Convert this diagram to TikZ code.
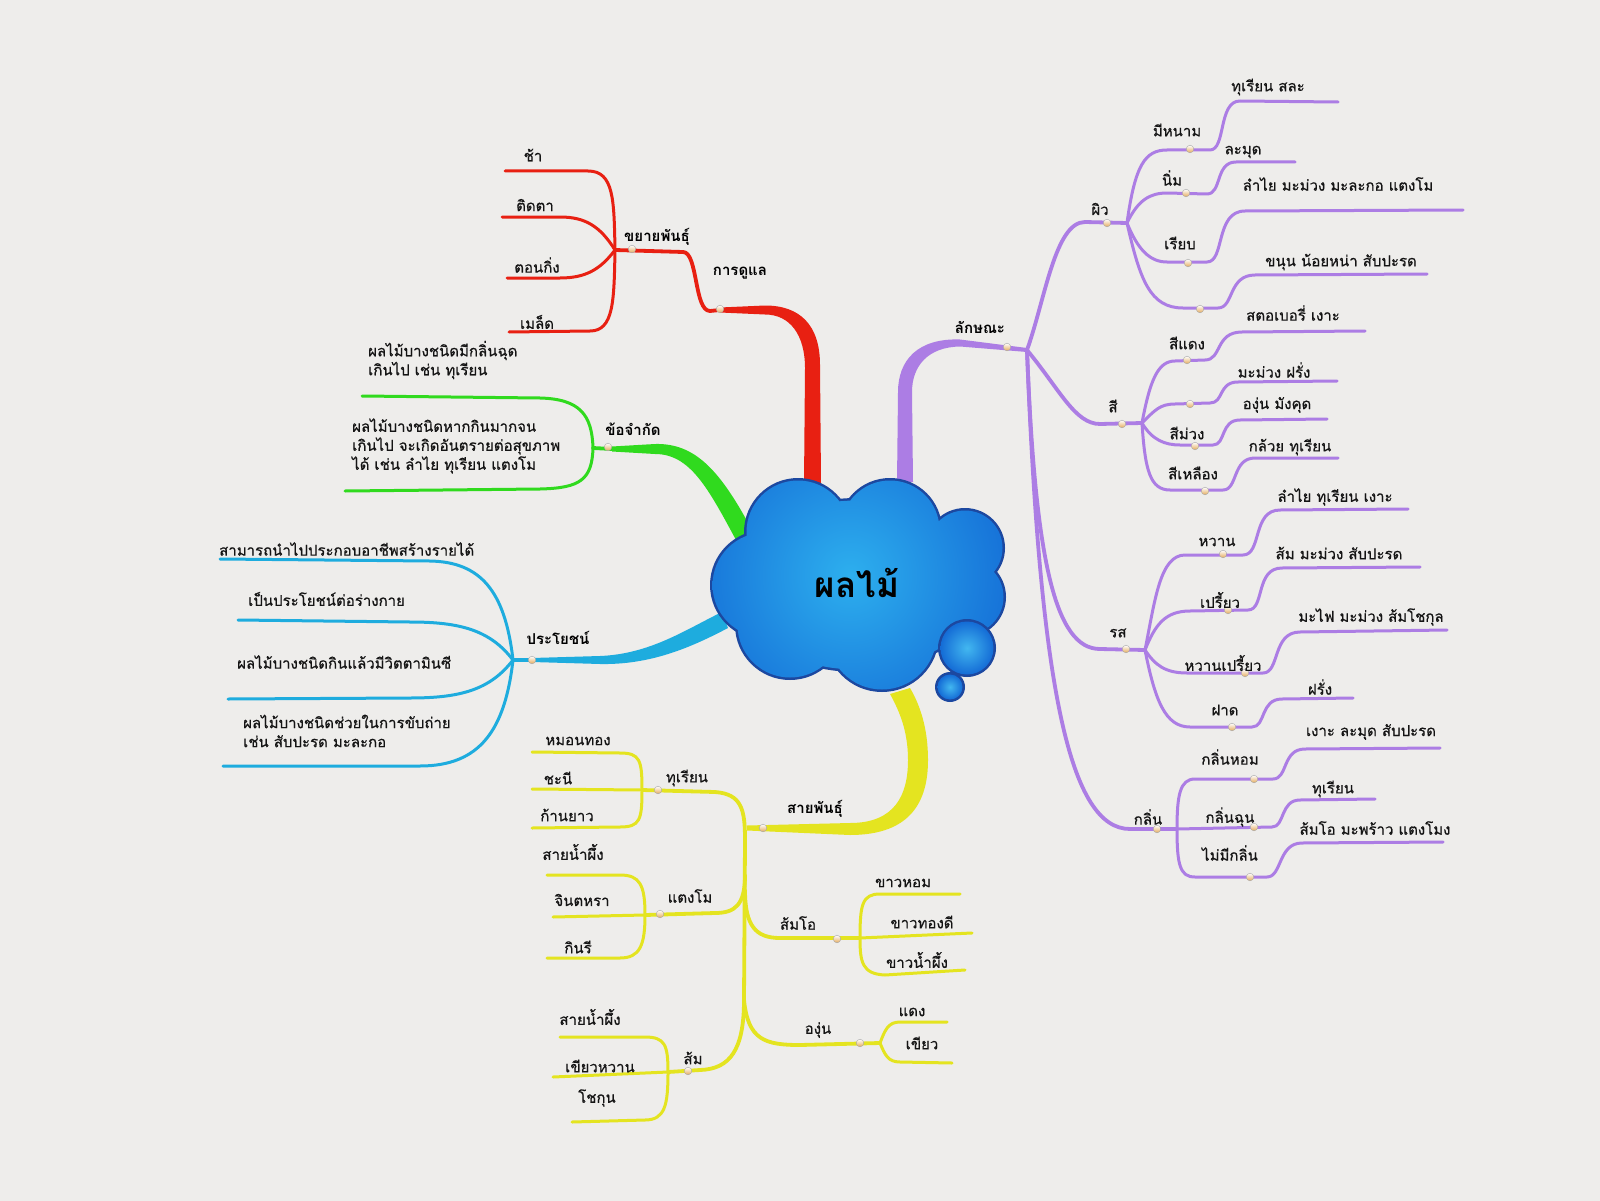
\documentclass[tikz,border=0pt]{standalone}
\usepackage{fontspec}
\newfontfamily\thai[Script=Thai]{Loma}
\newfontfamily\thaim[Script=Thai,FakeBold=0.6]{Loma}
\definecolor{bg}{RGB}{238,237,235}
\definecolor{cred}{RGB}{232,32,18}
\definecolor{cgreen}{RGB}{48,218,30}
\definecolor{cblue}{RGB}{30,172,222}
\definecolor{cyel}{RGB}{228,228,32}
\definecolor{cpur}{RGB}{172,125,228}
\definecolor{cloudin}{RGB}{45,175,238}
\definecolor{cloudout}{RGB}{20,108,214}
\definecolor{cloudedge}{RGB}{28,72,160}
\definecolor{beadc}{RGB}{228,170,90}
\begin{document}
\begin{tikzpicture}[x=1pt,y=-1pt,
  lbl/.style={font=\thaim\fontsize{15}{19}\selectfont, inner sep=0pt, text=black!92},
  hlbl/.style={font=\thai\bfseries\fontsize{15}{19}\selectfont, inner sep=0pt, text=black},
  mlbl/.style={font=\thaim\fontsize{15}{19}\selectfont, inner sep=0pt, align=left, anchor=west, text=black!92},
  leaf/.style={line width=3pt, line cap=round, line join=round},
  sub/.style={line width=3.8pt, line cap=round, line join=round},
  bead/.style={top color=white, bottom color=beadc, draw=black!35, line width=0.4pt}]
\fill[bg] (0,0) rectangle (1600,1201);
\useasboundingbox (0,0) rectangle (1600,1201);

% ---------------- coordinates (junctions) ----------------
\coordinate (rJ) at (615,250);  \coordinate (rM) at (720,310);
\coordinate (gJ) at (593,448);  \coordinate (gM) at (612,449);
\coordinate (bJ) at (513,660);  \coordinate (bM) at (532,660);
\coordinate (yA) at (642,790);  \coordinate (yB) at (645,915);
\coordinate (yC) at (860,938);  \coordinate (yE) at (668,1072);
\coordinate (yF) at (880,1043); \coordinate (yT) at (745,828);
\coordinate (pJ) at (1027,350);
\coordinate (pA) at (1127,223); \coordinate (pB) at (1142,423);
\coordinate (pC) at (1145,650); \coordinate (pD) at (1177,829);

% leaf ends
\coordinate (r1) at (505,171); \coordinate (r2) at (502,217);
\coordinate (r3) at (507,278); \coordinate (r4) at (509,332);
\coordinate (g1) at (362,396); \coordinate (g2) at (345,491);
\coordinate (b1) at (220,559); \coordinate (b2) at (238,620);
\coordinate (b3) at (228,699); \coordinate (b4) at (223,766);
\coordinate (yA1) at (532,752); \coordinate (yA2) at (532,789); \coordinate (yA3) at (532,828);
\coordinate (yB1) at (547,875); \coordinate (yB2) at (553,917); \coordinate (yB3) at (547,958);
\coordinate (yC1) at (960,894); \coordinate (yC2) at (972,933); \coordinate (yC3) at (965,970);
\coordinate (yF1) at (947,1022); \coordinate (yF2) at (952,1063);
\coordinate (yE1) at (560,1037); \coordinate (yE2) at (553,1077); \coordinate (yE3) at (572,1122);
\coordinate (pA1) at (1338,102); \coordinate (pA2) at (1295,162);
\coordinate (pA3) at (1463,210); \coordinate (pA4) at (1427,274);
\coordinate (pB1) at (1365,331); \coordinate (pB2) at (1337,381);
\coordinate (pB3) at (1327,419); \coordinate (pB4) at (1338,458);
\coordinate (pC1) at (1408,509); \coordinate (pC2) at (1420,567);
\coordinate (pC3) at (1447,630); \coordinate (pC4) at (1353,698);
\coordinate (pD1) at (1440,748); \coordinate (pD2) at (1375,799); \coordinate (pD3) at (1443,842);

% ---------------- RED ----------------
\fill[cred] (720,307.5) -- (765,305.5) .. controls (800,305.5) and (820,325) .. (820,365) -- (821,484) -- (804,484) -- (805,368) .. controls (805,335) and (790,314.5) .. (765,314.5) -- (720,312.5) -- cycle;
\draw[sub,cred] (rJ) -- (683,252) .. controls (698,252) and (694,311) .. (710,311) -- (rM);
\draw[leaf,cred] (rJ) .. controls (614,200) and (614,171) .. (588,171) -- (r1);
\draw[leaf,cred] (rJ) .. controls (600,226) and (585,217) .. (560,217) -- (r2);
\draw[leaf,cred] (rJ) .. controls (600,270) and (585,278) .. (560,278) -- (r3);
\draw[leaf,cred] (rJ) .. controls (614,300) and (614,331) .. (590,331) -- (r4);

% ---------------- GREEN ----------------
\fill[cgreen] (612,446.5) -- (655,444) .. controls (695,443) and (720,470) .. (752,530) -- (736,540) .. controls (708,488) and (690,454) .. (655,454) -- (612,451.5) -- cycle;
\draw[sub,cgreen] (gJ) -- (gM);
\draw[leaf,cgreen] (gJ) .. controls (592,415) and (580,399) .. (540,398) -- (g1);
\draw[leaf,cgreen] (gJ) .. controls (592,480) and (580,488) .. (540,489) -- (g2);

% ---------------- BLUE ----------------
\fill[cblue] (532,658) -- (600,656) .. controls (650,654) and (685,630) .. (722,612) -- (728,628) .. controls (690,648) and (650,665) .. (600,664) -- (532,662) -- cycle;
\draw[sub,cblue] (bJ) -- (bM);
\draw[leaf,cblue] (bJ) .. controls (505,590) and (480,562) .. (430,561) -- (b1);
\draw[leaf,cblue] (bJ) .. controls (490,630) and (460,622) .. (410,622) -- (b2);
\draw[leaf,cblue] (bJ) .. controls (490,690) and (460,698) .. (410,698) -- (b3);
\draw[leaf,cblue] (bJ) .. controls (505,730) and (480,766) .. (420,766) -- (b4);

% ---------------- YELLOW ----------------
\fill[cyel] (747,830.5) -- (850,835) .. controls (912,835) and (928,800) .. (928,760) .. controls (928,728) and (920,705) .. (910,688) -- (890,694) .. controls (900,712) and (908,732) .. (908,760) .. controls (908,795) and (895,823) .. (850,823) -- (747,825.5) -- cycle;
\draw[sub,cyel] (yA) -- (715,792) .. controls (742,794) and (745,810) .. (745,840) -- (744,1000)
   .. controls (744,1050) and (730,1069) .. (700,1070) -- (yE);
\draw[sub,cyel] (744,1000) .. controls (748,1040) and (765,1045) .. (800,1045) -- (yF);
\draw[sub,cyel] (745,875) .. controls (745,905) and (735,913) .. (715,913) -- (yB);
\draw[sub,cyel] (745,890) .. controls (745,925) and (755,938) .. (780,938) -- (yC);
\draw[leaf,cyel] (yA) .. controls (642,760) and (640,753) .. (620,753) -- (yA1);
\draw[leaf,cyel] (yA) -- (yA2);
\draw[leaf,cyel] (yA) .. controls (642,820) and (640,827) .. (620,827) -- (yA3);
\draw[leaf,cyel] (yB) .. controls (645,885) and (640,875) .. (620,875) -- (yB1);
\draw[leaf,cyel] (yB) -- (yB2);
\draw[leaf,cyel] (yB) .. controls (645,945) and (640,958) .. (620,958) -- (yB3);
\draw[leaf,cyel] (yC) .. controls (860,905) and (862,894) .. (880,894) -- (yC1);
\draw[leaf,cyel] (yC) -- (yC2);
\draw[leaf,cyel] (yC) .. controls (860,962) and (862,974) .. (885,975) -- (yC3);
\draw[leaf,cyel] (yF) .. controls (885,1030) and (888,1022) .. (900,1022) -- (yF1);
\draw[leaf,cyel] (yF) .. controls (885,1055) and (888,1062) .. (900,1062) -- (yF2);
\draw[leaf,cyel] (yE) .. controls (668,1045) and (665,1037) .. (645,1037) -- (yE1);
\draw[leaf,cyel] (yE) -- (yE2);
\draw[leaf,cyel] (yE) .. controls (668,1105) and (665,1120) .. (645,1120) -- (yE3);

% ---------------- PURPLE ----------------
\fill[cpur] (1027,348) -- (960,339.5) .. controls (918,338) and (898,360) .. (898,392) -- (897,482) -- (913,482) -- (912,392) .. controls (912,366) and (928,347) .. (960,346.5) -- (1027,352) -- cycle;
\draw[sub,cpur] (pJ) .. controls (1045,300) and (1055,222) .. (1085,222) -- (pA);
\draw[sub,cpur] (pJ) .. controls (1060,390) and (1075,424) .. (1100,424) -- (pB);
\draw[sub,cpur] (pJ) .. controls (1035,560) and (1055,649) .. (1100,649) -- (pC);
\draw[sub,cpur] (pJ) .. controls (1040,690) and (1070,829) .. (1130,829) -- (pD);
% skin
\draw[leaf,cpur] (pA) .. controls (1135,165) and (1145,150) .. (1167,150) -- (1210,150) .. controls (1226,150) and (1218,101) .. (1240,101) -- (pA1);
\draw[leaf,cpur] (pA) .. controls (1138,200) and (1150,193) .. (1167,193) -- (1207,194) .. controls (1222,194) and (1215,162) .. (1236,162) -- (pA2);
\draw[leaf,cpur] (pA) .. controls (1138,250) and (1150,262) .. (1167,262) -- (1207,262) .. controls (1225,262) and (1215,211) .. (1245,211) -- (pA3);
\draw[leaf,cpur] (pA) .. controls (1140,280) and (1150,308) .. (1183,308) -- (1218,308) .. controls (1234,308) and (1228,275) .. (1255,275) -- (pA4);
% colour
\draw[leaf,cpur] (pB) .. controls (1150,380) and (1158,361) .. (1175,361) -- (1205,360) .. controls (1222,360) and (1215,332) .. (1242,332) -- (pB1);
\draw[leaf,cpur] (pB) .. controls (1155,410) and (1160,404) .. (1175,404) -- (1210,403) .. controls (1224,403) and (1218,382) .. (1238,382) -- (pB2);
\draw[leaf,cpur] (pB) .. controls (1152,440) and (1165,445) .. (1180,445) -- (1213,445) .. controls (1226,445) and (1220,420) .. (1240,420) -- (pB3);
\draw[leaf,cpur] (pB) .. controls (1145,470) and (1150,490) .. (1170,490) -- (1223,490) .. controls (1238,490) and (1232,458) .. (1255,458) -- (pB4);
% taste
\draw[leaf,cpur] (pC) .. controls (1155,600) and (1160,555) .. (1185,555) -- (1243,555) .. controls (1262,555) and (1252,510) .. (1280,510) -- (pC1);
\draw[leaf,cpur] (pC) .. controls (1155,625) and (1165,611) .. (1190,611) -- (1248,610) .. controls (1265,610) and (1255,568) .. (1282,568) -- (pC2);
\draw[leaf,cpur] (pC) .. controls (1155,665) and (1165,673) .. (1187,673) -- (1263,673) .. controls (1280,673) and (1272,632) .. (1300,632) -- (pC3);
\draw[leaf,cpur] (pC) .. controls (1155,700) and (1165,727) .. (1190,727) -- (1252,727) .. controls (1266,727) and (1260,699) .. (1282,699) -- (pC4);
% smell
\draw[leaf,cpur] (pD) .. controls (1177,795) and (1180,779) .. (1195,779) -- (1273,779) .. controls (1288,779) and (1282,749) .. (1305,749) -- (pD1);
\draw[leaf,cpur] (pD) -- (1272,827) .. controls (1285,827) and (1280,800) .. (1300,800) -- (pD2);
\draw[leaf,cpur] (pD) .. controls (1177,865) and (1180,877) .. (1195,877) -- (1267,877) .. controls (1282,877) and (1278,843) .. (1302,843) -- (pD3);

% ---------------- beads ----------------
\foreach \p in {(632,249),(720,309),(608,447),(532,660),(658,790),(660,914),(837,939),(860,1043),(688,1071),(763,828),
  (1007,347),(1107,223),(1122,424),(1126,649),(1157,829),
  (1190,149),(1186,193),(1188,263),(1200,309),
  (1187,360),(1190,404),(1195,446),(1205,491),
  (1223,554),(1228,610),(1245,673),(1232,727),
  (1254,779),(1254,827),(1250,877)}
  \shade[bead] \p circle (3.8);

% ---------------- CLOUD ----------------
\fill[cloudedge]
  (857,585) ellipse [x radius=127, y radius=87]
  (798,532) circle (54) (890,530) circle (52) (965,548) circle (40)
  (765,585) circle (55) (966,597) circle (40)
  (790,625) circle (55) (882,635) circle (57);
\begin{scope}
\clip (857,585) ellipse [x radius=124.5, y radius=84.5]
  (798,532) circle (51.5) (890,530) circle (49.5) (965,548) circle (37.5)
  (765,585) circle (52.5) (966,597) circle (37.5)
  (790,625) circle (52.5) (882,635) circle (54.5);
\shade[inner color=cloudin, outer color=cloudout] (850,575) circle (175);
\end{scope}
\fill[cloudedge] (967,648) circle (29);
\shade[inner color=cloudin!90!white, outer color=cloudout] (967,648) circle (26.5);
\fill[cloudedge] (950,687) circle (15);
\shade[inner color=cloudin!90!white, outer color=cloudout] (950,687) circle (12.5);
\node[font=\thai\bfseries\fontsize{35}{40}\selectfont, inner sep=0pt] (title) at (857,583) {ผลไม้};

% ---------------- LABELS ----------------
% red
\node[hlbl] (nCare) at (740,273) {การดูแล};
\node[hlbl] (nProp) at (657,237) {ขยายพันธุ์};
\node[lbl] (nR1) at (533,155) {ช้า};
\node[lbl] (nR2) at (535,205) {ติดตา};
\node[lbl] (nR3) at (537,265) {ตอนกิ่ง};
\node[lbl] (nR4) at (537,322) {เมล็ด};
% green
\node[hlbl] (nLim) at (633,429) {ข้อจำกัด};
\node[mlbl] (nG1) at (368,360) {ผลไม้บางชนิดมีกลิ่นฉุด\\เกินไป เช่น ทุเรียน};
\node[mlbl] (nG2) at (352,446) {ผลไม้บางชนิดหากกินมากจน\\เกินไป จะเกิดอันตรายต่อสุขภาพ\\ได้ เช่น ลำไย ทุเรียน แตงโม};
% blue
\node[hlbl] (nBen) at (558,638) {ประโยชน์};
\node[mlbl] (nB1) at (219,549) {สามารถนำไปประกอบอาชีพสร้างรายได้};
\node[mlbl] (nB2) at (248,599) {เป็นประโยชน์ต่อร่างกาย};
\node[mlbl] (nB3) at (237,662) {ผลไม้บางชนิดกินแล้วมีวิตตามินซี};
\node[mlbl] (nB4) at (243,731) {ผลไม้บางชนิดช่วยในการขับถ่าย\\เช่น สับปะรด มะละกอ};
% yellow
\node[hlbl] (nVar) at (815,809) {สายพันธุ์};
\node[lbl] (nY1) at (687,778) {ทุเรียน};
\node[lbl] (nY11) at (578,741) {หมอนทอง};
\node[lbl] (nY12) at (558,778) {ชะนี};
\node[lbl] (nY13) at (567,815) {ก้านยาว};
\node[lbl] (nY2) at (690,896) {แตงโม};
\node[lbl] (nY21) at (573,852) {สายน้ำผึ้ง};
\node[lbl] (nY22) at (582,900) {จินตหรา};
\node[lbl] (nY23) at (578,947) {กินรี};
\node[lbl] (nY3) at (798,923) {ส้มโอ};
\node[lbl] (nY31) at (903,883) {ขาวหอม};
\node[lbl] (nY32) at (922,922) {ขาวทองดี};
\node[lbl] (nY33) at (917,960) {ขาวน้ำผึ้ง};
\node[lbl] (nY4) at (818,1030) {องุ่น};
\node[lbl] (nY41) at (912,1012) {แดง};
\node[lbl] (nY42) at (922,1043) {เขียว};
\node[lbl] (nY5) at (693,1058) {ส้ม};
\node[lbl] (nY51) at (590,1017) {สายน้ำผึ้ง};
\node[lbl] (nY52) at (600,1066) {เขียวหวาน};
\node[lbl] (nY53) at (597,1098) {โชกุน};
% purple
\node[hlbl] (nChar) at (980,327) {ลักษณะ};
\node[lbl] (nP1) at (1100,209) {ผิว};
\node[lbl] (nP11) at (1177,130) {มีหนาม};
\node[lbl] (nP11l) at (1268,87) {ทุเรียน สละ};
\node[lbl] (nP12) at (1172,178) {นิ่ม};
\node[lbl] (nP12l) at (1243,152) {ละมุด};
\node[lbl] (nP13) at (1180,243) {เรียบ};
\node[lbl] (nP13l) at (1338,184) {ลำไย มะม่วง มะละกอ แตงโม};
\node[lbl] (nP14l) at (1341,262) {ขนุน น้อยหน่า สับปะรด};
\node[lbl] (nP2) at (1113,406) {สี};
\node[lbl] (nP21) at (1187,343) {สีแดง};
\node[lbl] (nP21l) at (1293,313) {สตอเบอรี่ เงาะ};
\node[lbl] (nP22l) at (1274,370) {มะม่วง ฝรั่ง};
\node[lbl] (nP23) at (1187,433) {สีม่วง};
\node[lbl] (nP23l) at (1277,405) {องุ่น มังคุด};
\node[lbl] (nP24) at (1193,473) {สีเหลือง};
\node[lbl] (nP24l) at (1290,447) {กล้วย ทุเรียน};
\node[lbl] (nP3) at (1118,633) {รส};
\node[lbl] (nP31) at (1217,542) {หวาน};
\node[lbl] (nP31l) at (1335,497) {ลำไย ทุเรียน เงาะ};
\node[lbl] (nP32) at (1220,600) {เปรี้ยว};
\node[lbl] (nP32l) at (1339,553) {ส้ม มะม่วง สับปะรด};
\node[lbl] (nP33) at (1223,663) {หวานเปรี้ยว};
\node[lbl] (nP33l) at (1371,617) {มะไฟ มะม่วง ส้มโชกุล};
\node[lbl] (nP34) at (1225,710) {ฝาด};
\node[lbl] (nP34l) at (1320,687) {ฝรั่ง};
\node[lbl] (nP4) at (1148,817) {กลิ่น};
\node[lbl] (nP41) at (1230,757) {กลิ่นหอม};
\node[lbl] (nP41l) at (1371,732) {เงาะ ละมุด สับปะรด};
\node[lbl] (nP42) at (1230,817) {กลิ่นฉุน};
\node[lbl] (nP42l) at (1333,789) {ทุเรียน};
\node[lbl] (nP43) at (1230,853) {ไม่มีกลิ่น};
\node[lbl] (nP43l) at (1375,828) {ส้มโอ มะพร้าว แตงโมง};
\end{tikzpicture}
\end{document}
